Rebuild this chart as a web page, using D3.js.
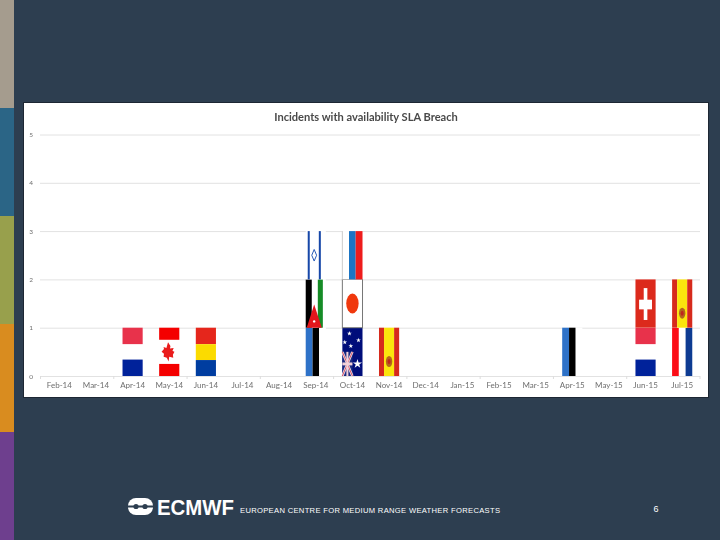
<!DOCTYPE html>
<html>
<head>
<meta charset="utf-8">
<style>
  html, body { margin: 0; padding: 0; background: #2d3e50; }
  svg { display: block; }
  .tick text { font-family: Lato, sans-serif; fill: #6e6e6e; }
  .domain { stroke: #ddd; }
</style>
<script src="https://cdn.jsdelivr.net/npm/d3@7"></script>
</head>
<body>
<div id="slide"></div>
<script>
// months on the x axis
var months = ["Feb-14", "Mar-14", "Apr-14", "May-14", "Jun-14", "Jul-14", "Aug-14", "Sep-14", "Oct-14",
  "Nov-14", "Dec-14", "Jan-15", "Feb-15", "Mar-15", "Apr-15", "May-15", "Jun-15", "Jul-15"];
// incidents per month
var incidents = [0, 0, 1, 1, 1, 0, 0, 3, 3, 1, 0, 0, 0, 0, 1, 0, 2, 2];
// the flag on each level of the stack, bottom to top
var flagsLevel1 = ["", "", "nl", "ca", "ro", "", "", "ee", "au", "es", "", "", "", "", "ee", "", "nl", "fr"];
var flagsLevel2 = ["", "", "", "", "", "", "", "jo", "jp", "", "", "", "", "", "", "", "ch", "es"];
var flagsLevel3 = ["", "", "", "", "", "", "", "il", "ru", "", "", "", "", "", "", "", "", ""];
var yTicks = [0, 1, 2, 3, 4, 5];
var title = "Incidents with availability SLA Breach";

var stripColors = ["#a59c8e", "#2b6586", "#98a04c", "#d98c1f", "#6e3f8e"];

var svg = d3.select("#slide").append("svg")
  .attr("width", 720)
  .attr("height", 540);

svg.append("rect").attr("width", 720).attr("height", 540).attr("fill", "#2d3e50");

// coloured strip down the left side
var stripY = d3.scaleBand().domain(d3.range(5)).range([0, 540]);
svg.selectAll(".strip")
  .data(stripColors)
  .enter().append("rect")
    .attr("class", "strip")
    .attr("x", 0)
    .attr("width", 14)
    .attr("y", function(d, i) { return stripY(i); })
    .attr("height", stripY.bandwidth())
    .attr("fill", function(d) { return d; });

// the chart is a pasted screenshot in the original, so it is a bit soft
var defs = svg.append("defs");
defs.append("filter").attr("id", "soft")
  .attr("x", 0).attr("y", 0).attr("width", 1).attr("height", 1)
  .attr("filterUnits", "objectBoundingBox")
  .append("feGaussianBlur").attr("stdDeviation", 0.35);

svg.append("rect")
  .attr("x", 23.5).attr("y", 102.5)
  .attr("width", 685).attr("height", 295)
  .attr("fill", "#fff")
  .attr("stroke", "#1d2733");

var chart = svg.append("g").attr("filter", "url(#soft)");

chart.append("rect").attr("x", 24).attr("y", 103).attr("width", 684).attr("height", 294).attr("fill", "#fff");

var x = d3.scaleBand()
  .domain(months)
  .range([41, 700.5])
  .paddingInner(0.45)
  .paddingOuter(0.225);

var y = d3.scaleLinear()
  .domain([0, 5])
  .range([376, 134.5]);

chart.append("text")
  .attr("x", 366)
  .attr("y", 121)
  .attr("text-anchor", "middle")
  .style("font-family", "Lato, sans-serif")
  .style("font-size", "11.1px")
  .style("font-weight", "bold")
  .attr("fill", "#4a4a4a")
  .text(title);

// grid + y labels
chart.append("g")
  .attr("class", "grid")
  .attr("transform", "translate(40,0)")
  .call(d3.axisLeft(y).tickValues(yTicks).tickFormat(d3.format("d")).tickSize(-660).tickPadding(7))
  .call(function(g) { g.select(".domain").remove(); })
  .call(function(g) { g.selectAll("line").attr("stroke", "#e2e2e2"); })
  .call(function(g) { g.selectAll("text").style("font-size", "6.5px"); });

// x labels, tick marks every second month
var step = x.step();
chart.append("g")
  .attr("transform", "translate(0,376)")
  .call(d3.axisBottom(x).tickSize(0).tickPadding(6))
  .call(function(g) { g.select(".domain").remove(); })
  .call(function(g) { g.selectAll("text").style("font-size", "8px"); });

var edgeTicks = months.filter(function(d, i) { return i % 2 == 0; }).concat(["end"]);
chart.selectAll(".edge")
  .data(edgeTicks)
  .enter().append("line")
    .attr("class", "edge")
    .attr("x1", function(d, i) { return 40.5 + i * 2 * step; })
    .attr("x2", function(d, i) { return 40.5 + i * 2 * step; })
    .attr("y1", 376)
    .attr("y2", 379)
    .attr("stroke", "#ddd");

// flags that are plain stripes: [start, end, colour], as fractions of the bar
var stripes = {
  nl: { dir: "h", parts: [[0, 0.34, "#e8304b"], [0.66, 1, "#00209a"]] },
  ca: { dir: "h", parts: [[0, 0.25, "#f40000"], [0.75, 1, "#f40000"]] },
  ro: { dir: "h", parts: [[0, 0.34, "#e5261a"], [0.34, 0.67, "#fbdb06"], [0.67, 1, "#003ca0"]] },
  ee: { dir: "v", parts: [[0, 0.34, "#2f72c8"], [0.34, 0.66, "#000"]] },
  es: { dir: "v", parts: [[0, 0.25, "#d62a1b"], [0.25, 0.75, "#fbe50d"], [0.75, 1, "#d62a1b"]] },
  fr: { dir: "v", parts: [[0, 0.33, "#fb0a14"], [0.67, 1, "#0a3a92"]] },
  jo: { dir: "v", parts: [[0, 0.3, "#000"], [0.6, 0.85, "#148c28"]] },
  il: { dir: "v", parts: [[0.1, 0.2, "#1746a8"], [0.65, 0.75, "#1746a8"]] },
  ru: { dir: "v", parts: [[0.33, 0.66, "#1d74c4"], [0.66, 1, "#ee1c1c"]] },
  jp: { dir: "v", parts: [] },
  ch: { dir: "v", parts: [[0, 1, "#dc2a1f"]] },
  au: { dir: "v", parts: [[0, 1, "#00107a"]] }
};

// extra bits on top of the stripes, fx/fy map bar fractions to pixels
var extras = {
  ca: function(g, fx, fy) {
    var leaf = d3.line().x(function(d) { return fx(d[0]); }).y(function(d) { return fy(d[1]); });
    g.append("path")
      .attr("d", leaf([[0.44, 0.3], [0.56, 0.38], [0.54, 0.43], [0.72, 0.42], [0.66, 0.48], [0.76, 0.5], [0.68, 0.56],
        [0.7, 0.62], [0.5, 0.6], [0.47, 0.7], [0.38, 0.62], [0.22, 0.6], [0.24, 0.54], [0.12, 0.5], [0.24, 0.44], [0.22, 0.4], [0.36, 0.42]]) + "Z")
      .attr("fill", "#ea1a1a");
  },
  es: function(g, fx, fy) {
    g.append("ellipse").attr("cx", fx(0.5)).attr("cy", fy(0.7)).attr("rx", 3.2).attr("ry", 5.5).attr("fill", "#b5651d");
    g.append("ellipse").attr("cx", fx(0.5)).attr("cy", fy(0.7)).attr("rx", 1.5).attr("ry", 2.5).attr("fill", "#c0281c");
  },
  jo: function(g, fx, fy) {
    var tri = d3.line().x(function(d) { return fx(d[0]); }).y(function(d) { return fy(d[1]); });
    g.append("path").attr("d", tri([[0.05, 1], [0.42, 0.52], [0.8, 1]]) + "Z").attr("fill", "#e3141e");
    g.append("circle").attr("cx", fx(0.42)).attr("cy", fy(0.87)).attr("r", 1.2).attr("fill", "#fff");
  },
  il: function(g, fx, fy) {
    g.append("path")
      .attr("d", "M" + fx(0.42) + "," + fy(0.38) + "L" + fx(0.54) + "," + fy(0.5) + "L" + fx(0.42) + "," + fy(0.62) + "L" + fx(0.3) + "," + fy(0.5) + "Z")
      .attr("fill", "none")
      .attr("stroke", "#2a5cb8");
  },
  ru: function(g, fx, fy) {
    g.append("line").attr("x1", fx(0)).attr("x2", fx(0)).attr("y1", fy(0)).attr("y2", fy(1)).attr("stroke", "#ccc");
  },
  jp: function(g, fx, fy) {
    g.append("rect").attr("x", fx(0)).attr("y", fy(0)).attr("width", fx(1) - fx(0)).attr("height", fy(1) - fy(0))
      .attr("fill", "none").attr("stroke", "#777");
    g.append("ellipse").attr("cx", fx(0.5)).attr("cy", fy(0.5)).attr("rx", 6.2).attr("ry", 10).attr("fill", "#f0390f");
  },
  ch: function(g, fx, fy) {
    g.append("rect").attr("x", fx(0.41)).attr("width", fx(0.59) - fx(0.41)).attr("y", fy(0.18)).attr("height", fy(0.84) - fy(0.18)).attr("fill", "#fff");
    g.append("rect").attr("x", fx(0.18)).attr("width", fx(0.82) - fx(0.18)).attr("y", fy(0.42)).attr("height", fy(0.62) - fy(0.42)).attr("fill", "#fff");
  },
  au: function(g, fx, fy) {
    // union jack bottom left
    g.append("rect").attr("x", fx(0)).attr("width", fx(0.5) - fx(0)).attr("y", fy(0.5)).attr("height", fy(1) - fy(0.5)).attr("fill", "#1d2a80");
    [[0, 0.5, 0.5, 1], [0, 1, 0.5, 0.5]].forEach(function(c) {
      g.append("line").attr("x1", fx(c[0])).attr("y1", fy(c[1])).attr("x2", fx(c[2])).attr("y2", fy(c[3]))
        .attr("stroke", "#e8e8f2").attr("stroke-width", 2.4);
      g.append("line").attr("x1", fx(c[0])).attr("y1", fy(c[1])).attr("x2", fx(c[2])).attr("y2", fy(c[3]))
        .attr("stroke", "#d8283c").attr("stroke-width", 0.8);
    });
    g.append("rect").attr("x", fx(0.2)).attr("width", fx(0.3) - fx(0.2)).attr("y", fy(0.5)).attr("height", fy(1) - fy(0.5)).attr("fill", "#f2d0d8");
    g.append("rect").attr("x", fx(0)).attr("width", fx(0.5) - fx(0)).attr("y", fy(0.72)).attr("height", fy(0.78) - fy(0.72)).attr("fill", "#f2d0d8");
    var star = d3.symbol().type(d3.symbolStar);
    [[0.35, 0.12, 7], [0.12, 0.3, 7], [0.42, 0.38, 7], [0.8, 0.26, 7], [0.75, 0.75, 26]].forEach(function(s) {
      g.append("path")
        .attr("d", star.size(s[2])())
        .attr("transform", "translate(" + fx(s[0]) + "," + fy(s[1]) + ")")
        .attr("fill", "#fff");
    });
  }
};

function drawFlag(code, month, level) {
  var fx = d3.scaleLinear().domain([0, 1]).range([x(month), x(month) + x.bandwidth()]);
  var fy = d3.scaleLinear().domain([0, 1]).range([y(level + 1), y(level)]);
  var g = chart.append("g").attr("class", "flag " + code);
  var flag = stripes[code];

  g.selectAll("rect")
    .data(flag.parts)
    .enter().append("rect")
      .attr("x", function(d) { return flag.dir == "v" ? fx(d[0]) : fx(0); })
      .attr("width", function(d) { return flag.dir == "v" ? fx(d[1]) - fx(d[0]) : fx(1) - fx(0); })
      .attr("y", function(d) { return flag.dir == "h" ? fy(d[0]) : fy(0); })
      .attr("height", function(d) { return flag.dir == "h" ? fy(d[1]) - fy(d[0]) : fy(1) - fy(0); })
      .attr("fill", function(d) { return d[2]; });

  if (extras[code]) extras[code](g, fx, fy);
}

// stack the flags month by month
months.forEach(function(m, i) {
  var levels = [flagsLevel1[i], flagsLevel2[i], flagsLevel3[i]];
  d3.range(incidents[i]).forEach(function(l) {
    // white backing so the gridline does not run through the flag
    chart.append("rect")
      .attr("x", x(m)).attr("width", x.bandwidth())
      .attr("y", y(l + 1)).attr("height", y(l) - y(l + 1))
      .attr("fill", "#fff");
    drawFlag(levels[l], m, l);
  });
});

// footer
var logo = svg.append("g").attr("class", "logo");
logo.append("rect").attr("x", 128).attr("y", 498).attr("width", 25).attr("height", 17).attr("rx", 8).attr("fill", "#fff");
logo.append("rect").attr("x", 128).attr("y", 505.5).attr("width", 25).attr("height", 2).attr("fill", "#2d3e50");
logo.append("circle").attr("cx", 136).attr("cy", 506.5).attr("r", 2.6).attr("fill", "#2d3e50");
logo.append("circle").attr("cx", 145).attr("cy", 506.5).attr("r", 2.6).attr("fill", "#2d3e50");

svg.append("text")
  .attr("x", 157)
  .attr("y", 515)
  .attr("textLength", 77)
  .attr("lengthAdjust", "spacingAndGlyphs")
  .style("font-family", "Liberation Sans, Arial, sans-serif")
  .style("font-size", "22.5px")
  .style("font-weight", "bold")
  .attr("fill", "#fff")
  .text("ECMWF");

svg.append("text")
  .attr("x", 240)
  .attr("y", 513)
  .attr("textLength", 260)
  .attr("lengthAdjust", "spacing")
  .style("font-family", "Liberation Sans, Arial, sans-serif")
  .style("font-size", "7.6px")
  .attr("fill", "#fff")
  .text("EUROPEAN CENTRE FOR MEDIUM RANGE WEATHER FORECASTS");

svg.append("text")
  .attr("x", 656)
  .attr("y", 512)
  .attr("text-anchor", "middle")
  .style("font-family", "Liberation Sans, Arial, sans-serif")
  .style("font-size", "9px")
  .attr("fill", "#fff")
  .text("6");
</script>
</body>
</html>
